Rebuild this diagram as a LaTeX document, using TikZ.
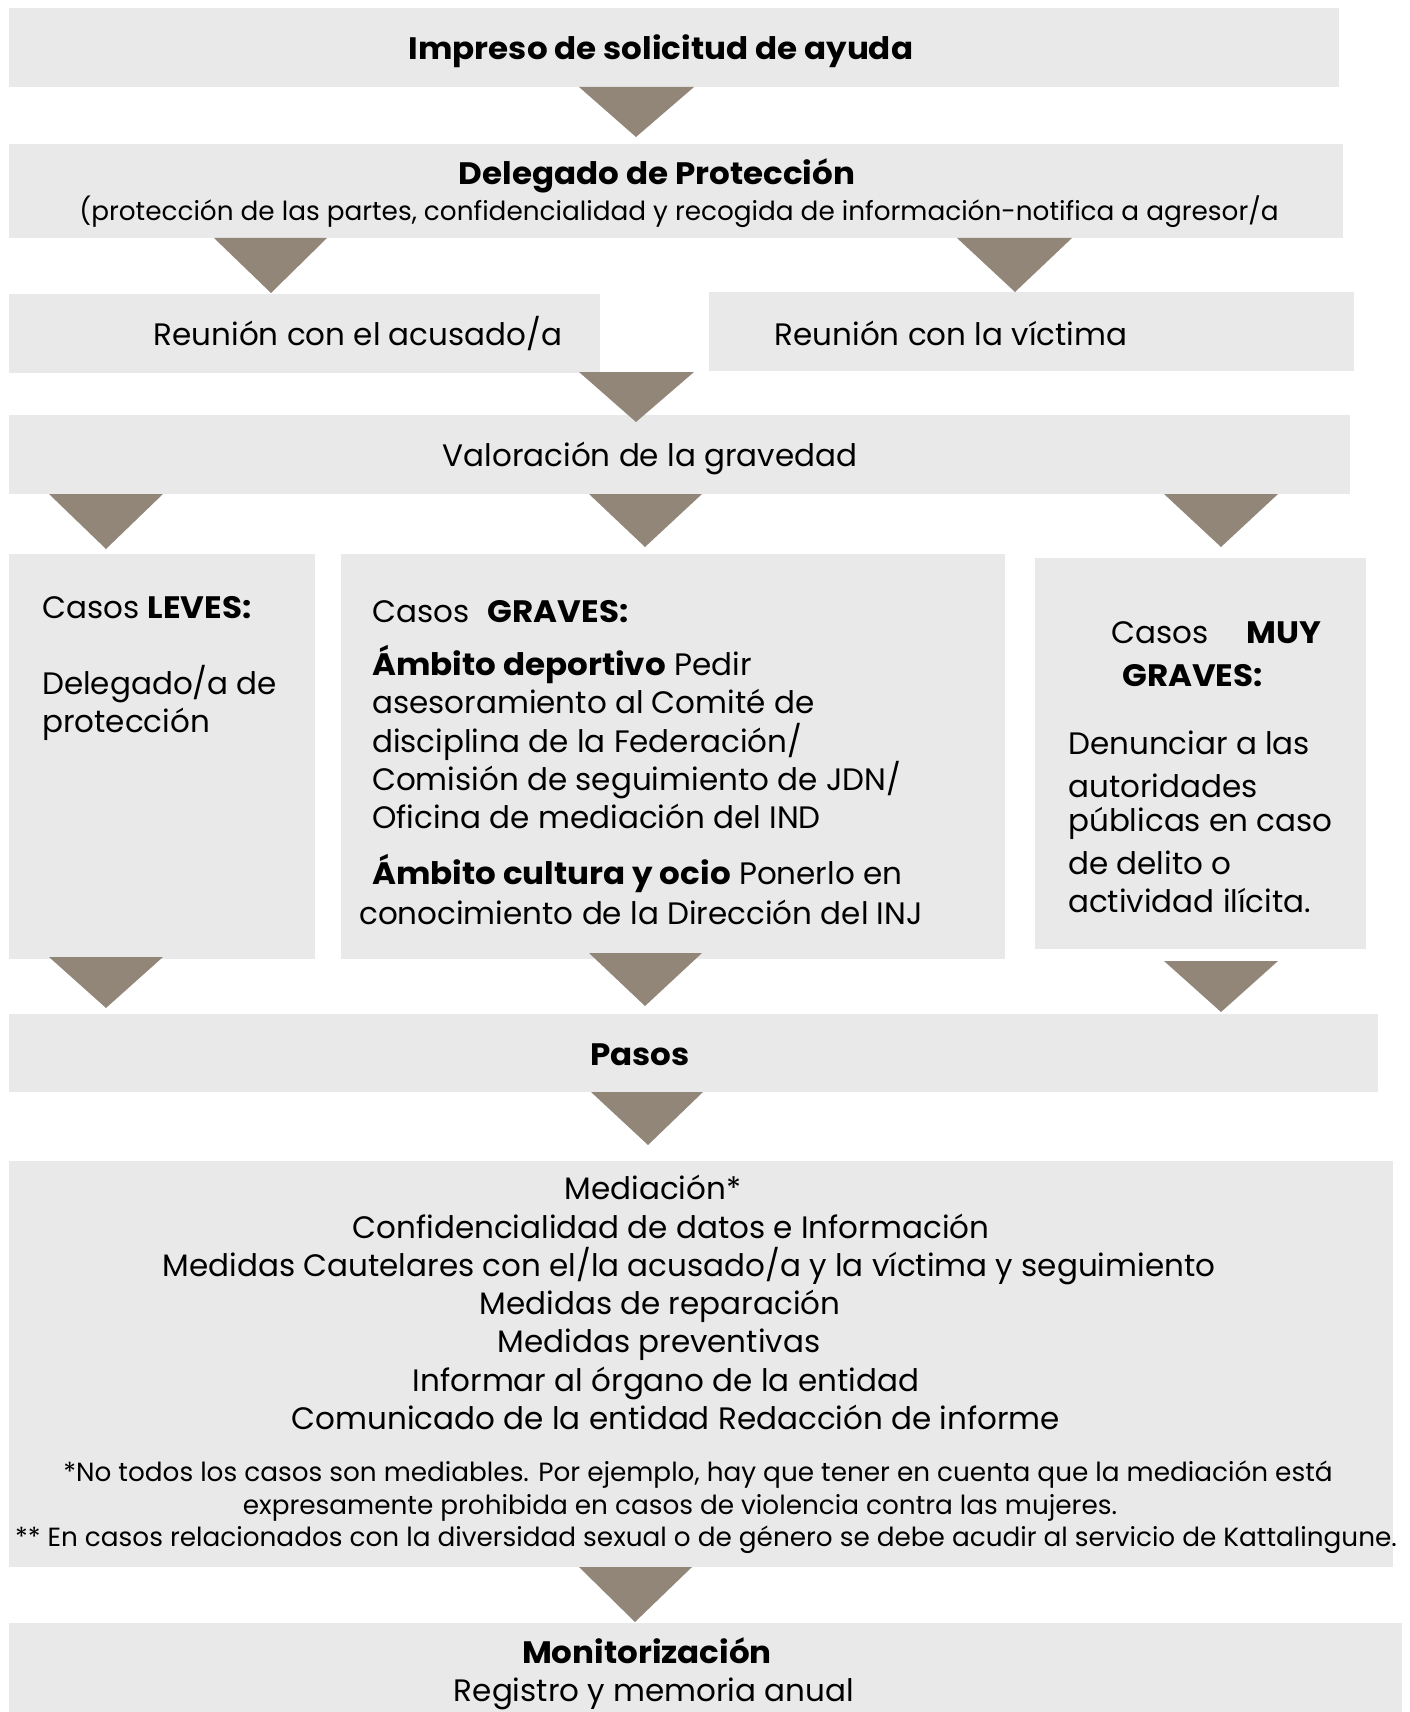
\documentclass[tikz,border=0pt]{standalone}
\usepackage{fontspec}
\setmainfont{Poppins}[BoldFeatures={FakeStretch=1.05}]
\definecolor{boxgray}{RGB}{233,233,233}
\definecolor{tricol}{RGB}{146,134,121}
\tikzset{
  box/.style={fill=boxgray, draw=none, inner sep=0pt, anchor=north west},
  arrowtri/.style={fill=tricol, draw=none},
  body/.style={inner sep=0pt, font=\fontsize{31}{38}\selectfont, text=black},
  title/.style={inner sep=0pt, font=\fontsize{31}{38}\selectfont\bfseries, text=black},
  small/.style={inner sep=0pt, font=\fontsize{26.3}{33}\selectfont, text=black},
}
\begin{document}
\begin{tikzpicture}[x=1pt,y=-1pt]
\useasboundingbox (0,0) rectangle (1409,1712);
% boxes
\node[box, minimum width=1330pt, minimum height=79pt] (b1) at (9,8) {};
\node[box, minimum width=1334pt, minimum height=94pt] (b2) at (9,144) {};
\node[box, minimum width=591pt, minimum height=79pt] (b3a) at (9,294) {};
\node[box, minimum width=645pt, minimum height=79pt] (b3b) at (709,292) {};
\node[box, minimum width=1341pt, minimum height=79pt] (b4) at (9,415) {};
\node[box, minimum width=306pt, minimum height=405pt] (b5l) at (9,554) {};
\node[box, minimum width=664pt, minimum height=405pt] (b5m) at (341,554) {};
\node[box, minimum width=331pt, minimum height=391pt] (b5r) at (1035,558) {};
\node[box, minimum width=1369pt, minimum height=78pt] (b6) at (9,1014) {};
\node[box, minimum width=1384pt, minimum height=406pt] (b7) at (9,1161) {};
\node[box, minimum width=1393pt, minimum height=89pt] (b8) at (9,1623) {};
% triangles
\fill[arrowtri] (579,87) -- (694,87) -- (636,137) -- cycle;
\fill[arrowtri] (214,238) -- (327,238) -- (271,293) -- cycle;
\fill[arrowtri] (957,238) -- (1072,238) -- (1015,292) -- cycle;
\fill[arrowtri] (579,372) -- (694,372) -- (636,422) -- cycle;
\fill[arrowtri] (49,494) -- (163,494) -- (106,549) -- cycle;
\fill[arrowtri] (589,494) -- (702,494) -- (645,547) -- cycle;
\fill[arrowtri] (1164,494) -- (1278,494) -- (1221,547) -- cycle;
\fill[arrowtri] (49,957) -- (163,957) -- (106,1008) -- cycle;
\fill[arrowtri] (589,953) -- (702,953) -- (645,1006) -- cycle;
\fill[arrowtri] (1164,961) -- (1278,961) -- (1221,1012) -- cycle;
\fill[arrowtri] (591,1092) -- (703,1092) -- (648,1145) -- cycle;
\fill[arrowtri] (579,1567) -- (692,1567) -- (635,1622) -- cycle;
% texts
\node[title, anchor=mid] (t1) at (661,57) {Impreso de solicitud de ayuda};
\node[title, anchor=mid] (t2) at (657,182) {Delegado de Protección};
\node[small, anchor=mid] (t2s) at (679,218) {(protección de las partes, confidencialidad y recogida de información-notifica a agresor/a};
\node[body, anchor=mid] (t3a) at (358,343) {Reunión con el acusado/a};
\node[body, anchor=mid] (t3b) at (951,343) {Reunión con la víctima};
\node[body, anchor=mid] (t4) at (650,464) {Valoración de la gravedad};
% leves
\node[body, anchor=mid west] (l1) at (42,616) {Casos \textbf{LEVES:}};
\node[body, anchor=mid west] (l2) at (42,692) {Delegado/a de};
\node[body, anchor=mid west] (l3) at (42,730) {protección};
% graves
\node[body, anchor=mid west] (g1) at (372,620) {Casos\hspace{0.6em}\textbf{GRAVES:}};
\node[body, anchor=mid west] (g2) at (372,673) {\textbf{Ámbito deportivo} Pedir};
\node[body, anchor=mid west] (g3) at (372,711) {asesoramiento al Comité de};
\node[body, anchor=mid west] (g4) at (372,750) {disciplina de la Federación/};
\node[body, anchor=mid west] (g5) at (372,788) {Comisión de seguimiento de JDN/};
\node[body, anchor=mid west] (g6) at (372,826) {Oficina de mediación del IND};
\node[body, anchor=mid west] (g7) at (372,882) {\textbf{Ámbito cultura y ocio} Ponerlo en};
\node[body, anchor=mid west] (g8) at (359,922) {conocimiento de la Dirección del INJ};
% muy graves
\node[body, anchor=mid west] (m1) at (1111,641) {Casos};
\node[title, anchor=mid west] (m2) at (1246,641) {MUY};
\node[title, anchor=mid west] (m3) at (1122,684) {GRAVES:};
\node[body, anchor=mid west] (m4) at (1068,752) {Denunciar a las};
\node[body, anchor=mid west] (m5) at (1068,795) {autoridades};
\node[body, anchor=mid west] (m6) at (1068,829) {públicas en caso};
\node[body, anchor=mid west] (m7) at (1068,872) {de delito o};
\node[body, anchor=mid west] (m8) at (1068,910) {actividad ilícita.};
% pasos
\node[title, anchor=mid] (p1) at (640,1063) {Pasos};
\node[body, anchor=mid] (s1) at (653,1197) {Mediación*};
\node[body, anchor=mid] (s2) at (671,1236) {Confidencialidad de datos e Información};
\node[body, anchor=mid] (s3) at (689,1274) {Medidas Cautelares con el/la acusado/a y la víctima y seguimiento};
\node[body, anchor=mid] (s4) at (660,1312) {Medidas de reparación};
\node[body, anchor=mid] (s5) at (659,1350) {Medidas preventivas};
\node[body, anchor=mid] (s6) at (666,1389) {Informar al órgano de la entidad};
\node[body, anchor=mid] (s7) at (676,1427) {Comunicado de la entidad Redacción de informe};
\node[small, anchor=mid] (f1) at (698,1479) {*No todos los casos son mediables. Por ejemplo, hay que tener en cuenta que la mediación está};
\node[small, anchor=mid] (f2) at (680,1512) {expresamente prohibida en casos de violencia contra las mujeres.};
\node[small, anchor=mid] (f3) at (706,1544) {** En casos relacionados con la diversidad sexual o de género se debe acudir al servicio de Kattalingune.};
% monitorizacion
\node[title, anchor=mid] (mo1) at (647,1661) {Monitorización};
\node[body, anchor=mid] (mo2) at (654,1699) {Registro y memoria anual};
\end{tikzpicture}
\end{document}
